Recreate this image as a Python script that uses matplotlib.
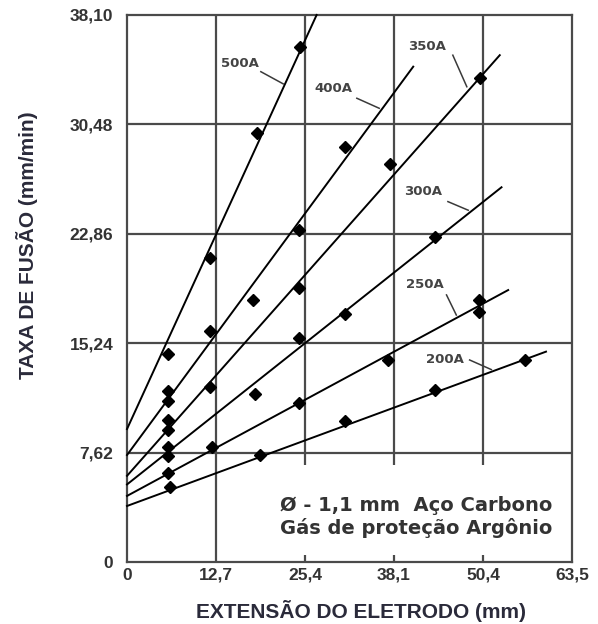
import matplotlib
matplotlib.use("Agg")
import matplotlib.pyplot as plt
from matplotlib.patches import Rectangle

plt.rcParams['font.family'] = ['Liberation Sans', 'DejaVu Sans']

# correntes
names = ['500A', '400A', '350A', '300A', '250A', '200A']

# pontos medidos
px_500 = [5.9, 11.8, 18.5, 24.7]
py_500 = [14.5, 21.15, 29.85, 35.9]
px_400 = [5.9, 5.9, 11.9, 18.0, 24.5, 31.1]
py_400 = [11.9, 11.2, 16.1, 18.25, 23.1, 28.9]
px_350 = [5.9, 5.9, 11.9, 24.6, 37.5, 50.4]
py_350 = [9.9, 9.2, 12.2, 19.05, 27.75, 33.7]
px_300 = [5.9, 5.9, 18.3, 24.6, 31.1, 43.9]
py_300 = [8.0, 7.4, 11.7, 15.6, 17.3, 22.65]
px_250 = [5.9, 12.2, 24.5, 37.3, 50.3, 50.3]
py_250 = [6.2, 8.0, 11.05, 14.1, 18.25, 17.4]
px_200 = [6.2, 19.0, 31.1, 43.9, 56.8]
py_200 = [5.2, 7.45, 9.8, 12.0, 14.1]

# retas ajustadas (inicio em x=0, fim)
fit_y0 = [9.26, 7.45, 6.0, 5.4, 4.6, 3.9]
fit_x1 = [27.06, 40.85, 53.2, 53.45, 54.4, 59.8]
fit_y1 = [38.1, 34.5, 35.3, 26.1, 18.94, 14.65]

# rotulos e linhas de chamada
lab_x = [16.1, 29.4, 42.75, 42.3, 42.5, 45.4]
lab_y = [34.75, 33.0, 35.9, 25.8, 19.3, 14.07]
lead_x0 = [19.1, 32.8, 46.5, 45.8, 45.6, 48.9]
lead_y0 = [34.15, 32.3, 35.3, 25.1, 18.6, 14.07]
lead_x1 = [22.3, 36.0, 48.5, 48.7, 47.0, 52.0]
lead_y1 = [33.3, 31.6, 33.1, 24.5, 17.2, 13.4]

note_lines = ['Ø - 1,1 mm  Aço Carbono', 'Gás de proteção Argônio']

xticks = [0, 12.7, 25.4, 38.1, 50.8, 63.5]
xtick_labels = ['0', '12,7', '25,4', '38,1', '50,4', '63,5']
yticks = [0, 7.62, 15.24, 22.86, 30.48, 38.10]
ytick_labels = ['0', '7,62', '15,24', '22,86', '30,48', '38,10']

pts_x = [px_500, px_400, px_350, px_300, px_250, px_200]
pts_y = [py_500, py_400, py_350, py_300, py_250, py_200]

fig = plt.figure(figsize=(5.98, 6.24), dpi=100)
ax = fig.add_axes([0.2124, 0.0994, 0.744, 0.8766])
ax.set_xlim(0, 63.5)
ax.set_ylim(0, 38.1)

gc = '#4a4a4a'
for v in xticks[1:-1]:
    ax.axvline(v, color=gc, lw=1.6, zorder=1)
for v in yticks[1:-1]:
    ax.axhline(v, color=gc, lw=1.6, zorder=1)

# caixa branca sob a nota
ax.add_patch(Rectangle((20.4, 0.5), 43.1, 6.25, facecolor='white',
                       edgecolor='none', zorder=2))

for i in range(len(names)):
    ax.plot([0, fit_x1[i]], [fit_y0[i], fit_y1[i]], color='black', lw=1.4,
            zorder=3, clip_on=False)
    ax.plot(pts_x[i], pts_y[i], linestyle='none', marker='D', ms=6.3,
            color='black', zorder=4)
    ax.text(lab_x[i], lab_y[i], names[i], fontsize=9.5, fontweight='bold',
            family='DejaVu Sans', color='#444444', ha='center', va='center',
            zorder=5)
    ax.plot([lead_x0[i], lead_x1[i]], [lead_y0[i], lead_y1[i]],
            color='#3a3a3a', lw=1.1, zorder=5)

ax.text(21.8, 3.9, note_lines[0], fontsize=14, fontweight='bold',
        family='DejaVu Sans', color='#333333', ha='left', va='center', zorder=5)
ax.text(21.8, 2.37, note_lines[1], fontsize=14, fontweight='bold',
        family='DejaVu Sans', color='#333333', ha='left', va='center', zorder=5)

ax.set_xticks(xticks)
ax.set_xticklabels(xtick_labels)
ax.set_yticks(yticks)
ax.set_yticklabels(ytick_labels)
ax.tick_params(length=0, labelsize=12.5, labelcolor='#333333')
ax.tick_params(axis='x', pad=4)
ax.tick_params(axis='y', pad=10)
for lab in ax.get_xticklabels() + ax.get_yticklabels():
    lab.set_fontweight('bold')

for s in ax.spines.values():
    s.set_color(gc)
    s.set_linewidth(1.6)

ax.set_xlabel('EXTENSÃO DO ELETRODO (mm)', fontsize=15, fontweight='bold',
              color='#2a2a3a')
ax.xaxis.set_label_coords(0.526, -0.07)
ax.set_ylabel('TAXA DE FUSÃO (mm/min)', fontsize=15, fontweight='bold',
              color='#2a2a3a')
ax.yaxis.set_label_coords(-0.2, 0.58)

fig.savefig('out.png', dpi=100)
